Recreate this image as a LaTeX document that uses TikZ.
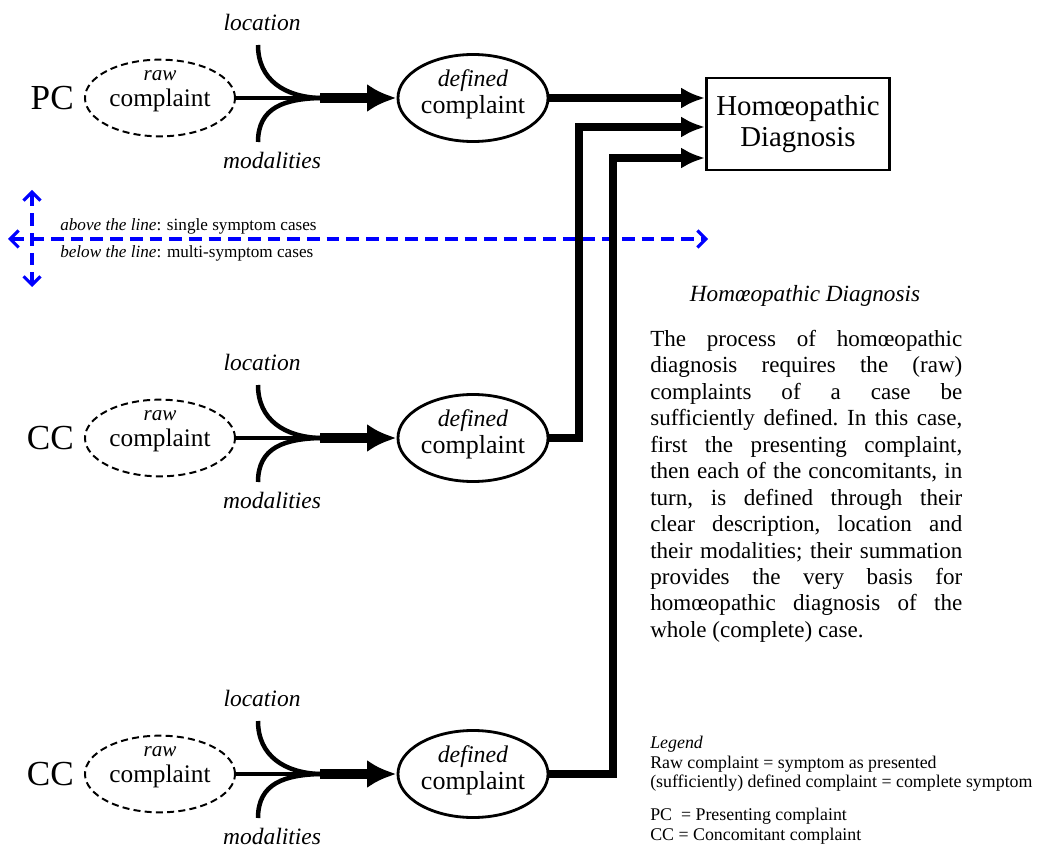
\documentclass[tikz,border=0pt]{standalone}
\usepackage{fontspec}
\setmainfont{Liberation Serif}
\usetikzlibrary{shapes.geometric,arrows.meta,positioning}

\tikzset{>=latex}
\tikzset{
  raw/.style={ellipse,draw,dash pattern=on 5pt off 3pt,line width=1.4pt,
    minimum width=3.75cm,minimum height=1.5cm,inner sep=0pt,align=center,
    font=\fontsize{18}{18}\selectfont,text depth=13.5pt},
  defined/.style={ellipse,draw,line width=2pt,minimum width=3.75cm,
    minimum height=2.175cm,inner sep=0pt,align=center,
    font=\fontsize{18.5}{19}\selectfont,text depth=9pt},
  diagbox/.style={rectangle,draw,line width=2pt,minimum width=4.575cm,
    minimum height=2.3cm,align=center,font=\fontsize{20.5}{22}\selectfont},
  tag/.style={inner sep=0pt,font=\fontsize{25}{25}\selectfont},
  lbl/.style={inner sep=0pt,font=\fontsize{16.7}{18}\selectfont\itshape},
  note/.style={inner sep=0pt,anchor=west,font=\fontsize{12.2}{13}\selectfont},
  branch/.style={line width=3.2pt},
  feed/.style={line width=2.8pt},
  push/.style={line width=6.5pt,-{Latex[length=21pt,width=20pt]}},
  route/.style={line width=5.7pt,-{Latex[length=17pt,width=15pt]}},
  divide/.style={blue,line width=2.2pt,dash pattern=on 9pt off 5pt,
    {Straight Barb[length=6pt,width=12pt]}-{Straight Barb[length=6pt,width=12pt]}},
}
\newcommand{\rawtext}{\textit{\fontsize{15}{15}\selectfont raw}\\complaint}
\newcommand{\deftext}{\textit{\fontsize{17}{19}\selectfont defined}\\complaint}

\begin{document}
\begin{tikzpicture}[x=0.025cm,y=-0.025cm]
  \useasboundingbox (0,0) rectangle (1038,846);
  \clip (0,0) rectangle (1038,846);

  % diagnosis box
  \node[diagbox] (diag) at (798,124) {Homœopathic\\Diagnosis};

  % above / below the line
  \coordinate (lineL) at (8,239);
  \coordinate (lineR) at (708,239);
  \coordinate (upT) at (32,190);
  \coordinate (upB) at (32,287);
  \draw[divide] (lineL) -- (lineR);
  \draw[divide] (upT) -- (upB);
  \node[note] (above) at (60,226) {\textit{above the line}: single symptom cases};
  \node[note] (below) at (60,253) {\textit{below the line}: multi-symptom cases};

  % presenting complaint
  \node[raw] (rawpc) at (160,98) {\rawtext};
  \node[tag,left=0.25cm of rawpc] (tagpc) {PC};
  \node[defined] (defpc) at (473,98) {\deftext};
  \coordinate (jpc) at (320,98);
  \coordinate (locpc) at (258,45);
  \coordinate (modpc) at (258,142);
  \node[lbl,above=0.35cm of locpc,xshift=0.1cm] (txtlocpc) {location};
  \node[lbl,below=0.25cm of modpc,xshift=0.35cm] (txtmodpc) {modalities};
  \draw[feed] (rawpc) -- (jpc);
  \draw[branch] (locpc) .. controls +(0,35) and +(-35,-1) .. (jpc);
  \draw[branch] (modpc) .. controls +(0,-35) and +(-35,1) .. (jpc);
  \draw[push] (jpc) -- (defpc);

  % first concomitant
  \node[raw] (rawcc1) at (160,438) {\rawtext};
  \node[tag,left=0.25cm of rawcc1] (tagcc1) {CC};
  \node[defined] (defcc1) at (473,438) {\deftext};
  \coordinate (jcc1) at (320,438);
  \coordinate (loccc1) at (258,385);
  \coordinate (modcc1) at (258,482);
  \node[lbl,above=0.35cm of loccc1,xshift=0.1cm] (txtloccc1) {location};
  \node[lbl,below=0.25cm of modcc1,xshift=0.35cm] (txtmodcc1) {modalities};
  \draw[feed] (rawcc1) -- (jcc1);
  \draw[branch] (loccc1) .. controls +(0,35) and +(-35,-1) .. (jcc1);
  \draw[branch] (modcc1) .. controls +(0,-35) and +(-35,1) .. (jcc1);
  \draw[push] (jcc1) -- (defcc1);

  % second concomitant
  \node[raw] (rawcc2) at (160,774) {\rawtext};
  \node[tag,left=0.25cm of rawcc2] (tagcc2) {CC};
  \node[defined] (defcc2) at (473,774) {\deftext};
  \coordinate (jcc2) at (320,774);
  \coordinate (loccc2) at (258,721);
  \coordinate (modcc2) at (258,818);
  \node[lbl,above=0.35cm of loccc2,xshift=0.1cm] (txtloccc2) {location};
  \node[lbl,below=0.25cm of modcc2,xshift=0.35cm] (txtmodcc2) {modalities};
  \draw[feed] (rawcc2) -- (jcc2);
  \draw[branch] (loccc2) .. controls +(0,35) and +(-35,-1) .. (jcc2);
  \draw[branch] (modcc2) .. controls +(0,-35) and +(-35,1) .. (jcc2);
  \draw[push] (jcc2) -- (defcc2);

  % into the diagnosis
  \draw[route] (defpc) -- (defpc -| diag.west);
  \draw[route] (defcc1.east) -- ++(30,0) |- ([yshift=-0.075cm]diag.west);
  \draw[route] (defcc2.east) -- ++(64,0) |- ([yshift=-0.85cm]diag.west);

  % explanation
  \node[inner sep=0pt,font=\fontsize{16.5}{18}\selectfont\itshape] (title) at (805,296)
    {Homœopathic Diagnosis};
  \node[anchor=north west,text width=7.8cm,align=justify,inner sep=0pt,
    font=\fontsize{16.4}{18.8}\selectfont] (para) at (650,330)
    {\hyphenpenalty=10000\frenchspacing
     The process of homœopathic\linebreak
     diagnosis requires the (raw)\linebreak
     complaints of a case be\linebreak
     sufficiently defined. In this case,\linebreak
     first the presenting complaint,\linebreak
     then each of the concomitants, in\linebreak
     turn, is defined through their\linebreak
     clear description, location and\linebreak
     their modalities; their summation\linebreak
     provides the very basis for\linebreak
     homœopathic diagnosis of the\linebreak
     whole (complete) case.};

  % legend
  \node[anchor=north west,align=left,inner sep=0pt,
    font=\fontsize{12.7}{13.9}\selectfont] (legend) at (650,736)
    {\textit{Legend}\\
     Raw complaint = symptom as presented\\
     (sufficiently) defined complaint = complete symptom\\[9.6pt]
     PC\ \ = Presenting complaint\\
     CC = Concomitant complaint};
\end{tikzpicture}
\end{document}
